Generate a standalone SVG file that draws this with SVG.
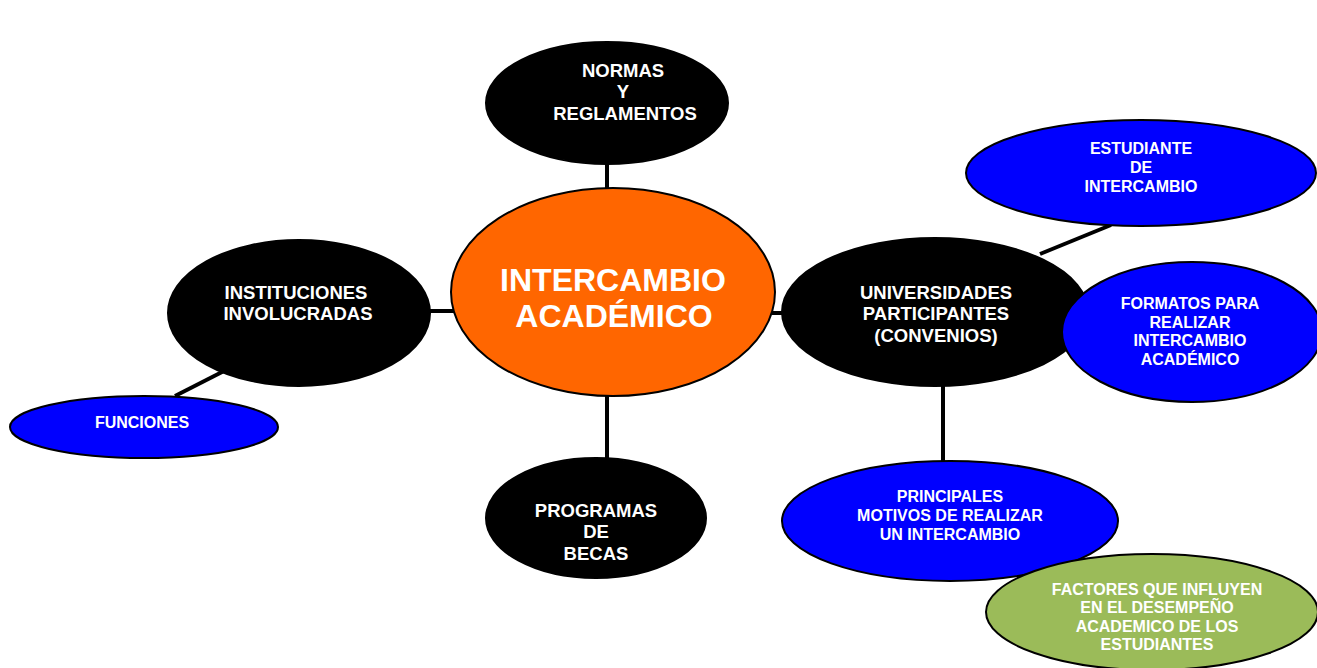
<svg xmlns="http://www.w3.org/2000/svg" width="1317" height="668" viewBox="0 0 1317 668">
<style>
.n ellipse{stroke:#000;stroke-width:2}
.blk{fill:#000}
.blu{fill:#0000ff}
.t{font-family:"Liberation Sans",Arial,sans-serif;font-weight:bold;fill:#fff;text-anchor:middle}
.s15{font-size:18.5px}
.s13{font-size:16px}
#connectors line{stroke:#000;stroke-width:4}
</style>
<rect width="1317" height="668" fill="#fff"/>
<g id="connectors">
<line x1="607" y1="160" x2="607" y2="192"/>
<line x1="428" y1="311" x2="455" y2="311"/>
<line x1="607" y1="392" x2="607" y2="462"/>
<line x1="772" y1="313" x2="786" y2="313"/>
<line x1="175" y1="396" x2="224" y2="371"/>
<line x1="1040" y1="254" x2="1111" y2="225"/>
<line x1="943" y1="382" x2="943" y2="464"/>
</g>
<g id="normas" class="n"><ellipse class="blk" cx="607" cy="103" rx="121" ry="61"/>
<text class="t s15" x="623" y="77">NORMAS</text><text class="t s15" x="623" y="98">Y</text><text class="t s15" x="625" y="120">REGLAMENTOS</text></g>
<g id="instituciones" class="n"><ellipse class="blk" cx="299" cy="313" rx="131" ry="73"/>
<text class="t s15" x="296" y="299">INSTITUCIONES</text><text class="t s15" x="298" y="320">INVOLUCRADAS</text></g>
<g id="funciones" class="n"><ellipse class="blu" cx="144" cy="427" rx="134" ry="31"/>
<text class="t s13" x="142" y="428">FUNCIONES</text></g>
<g id="programas" class="n"><ellipse class="blk" cx="596" cy="518" rx="110" ry="60"/>
<text class="t s15" x="596" y="517">PROGRAMAS</text><text class="t s15" x="596" y="538">DE</text><text class="t s15" x="596" y="560">BECAS</text></g>
<g id="universidades" class="n"><ellipse class="blk" cx="935" cy="312" rx="153" ry="74"/>
<text class="t s15" x="936" y="299">UNIVERSIDADES</text><text class="t s15" x="936" y="320">PARTICIPANTES</text><text class="t s15" x="936" y="342">(CONVENIOS)</text></g>
<g id="estudiante" class="n"><ellipse class="blu" cx="1141" cy="173" rx="175" ry="53"/>
<text class="t s13" x="1141" y="154">ESTUDIANTE</text><text class="t s13" x="1141" y="173">DE</text><text class="t s13" x="1141" y="192">INTERCAMBIO</text></g>
<g id="formatos" class="n"><ellipse class="blu" cx="1192" cy="332" rx="130" ry="70"/>
<text class="t s13" x="1190" y="309">FORMATOS PARA</text><text class="t s13" x="1190" y="328">REALIZAR</text><text class="t s13" x="1190" y="346">INTERCAMBIO</text><text class="t s13" x="1190" y="365">ACADÉMICO</text></g>
<g id="principales" class="n"><ellipse class="blu" cx="950" cy="521" rx="168" ry="60"/>
<text class="t s13" x="950" y="502">PRINCIPALES</text><text class="t s13" x="950" y="521">MOTIVOS DE REALIZAR</text><text class="t s13" x="950" y="540">UN INTERCAMBIO</text></g>
<g id="factores" class="n"><ellipse fill="#9bbb59" cx="1152" cy="612" rx="166" ry="58"/>
<text class="t s13" x="1157" y="595">FACTORES QUE INFLUYEN</text><text class="t s13" x="1157" y="613">EN EL DESEMPEÑO</text><text class="t s13" x="1157" y="632">ACADEMICO DE LOS</text><text class="t s13" x="1157" y="650">ESTUDIANTES</text></g>
<g id="central" class="n"><ellipse fill="#ff6600" cx="613" cy="292" rx="162" ry="104"/>
<text class="t" style="font-size:32px" x="613" y="291">INTERCAMBIO</text><text class="t" style="font-size:32px" x="614" y="327">ACADÉMICO</text></g>
</svg>
